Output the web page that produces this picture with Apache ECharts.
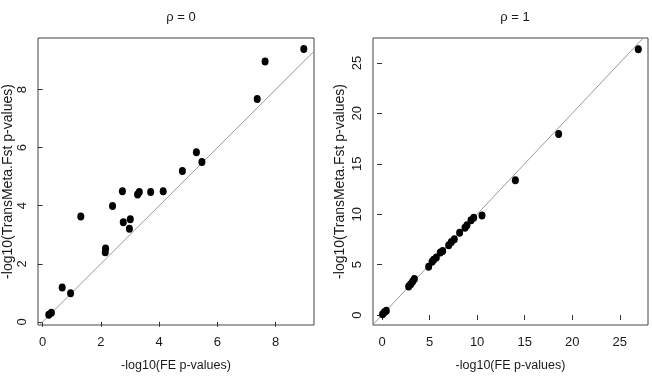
<!DOCTYPE html>
<html><head><meta charset="utf-8">
<script src="https://cdn.jsdelivr.net/npm/echarts@6/dist/echarts.min.js"></script>
<style>html,body{margin:0;padding:0;background:#fff}#c{width:652px;height:377px}</style>
</head><body><div id="c"></div>
<script>
// Panel titles
var titles = ['ρ = 0', 'ρ = 1'];
var xName = '-log10(FE p-values)';
var yName = '-log10(TransMeta.Fst p-values)';
// Left panel (rho = 0)
var x0 = [8.97,7.64,7.37,5.28,5.47,4.80,4.14,3.71,3.32,3.26,2.74,2.40,1.31,2.77,3.01,2.98,2.16,2.15,0.67,0.96,0.21,0.30];
var y0 = [9.40,8.97,7.68,5.84,5.51,5.20,4.50,4.47,4.47,4.39,4.50,3.99,3.63,3.43,3.53,3.21,2.53,2.40,1.18,0.98,0.24,0.31];
var xTicks0 = [0,2,4,6,8];
var yTicks0 = [0,2,4,6,8];
var xRange0 = [-0.16, 9.32];
var yRange0 = [-0.11, 9.78];
// Right panel (rho = 1)
var x1 = [26.95,18.57,14.02,10.51,9.64,9.36,8.93,8.72,8.16,7.60,7.29,7.01,6.38,6.13,5.71,5.43,5.26,4.90,3.40,3.22,3.01,2.80,0.45,0.24,0.06];
var y1 = [26.35,17.95,13.37,9.88,9.65,9.39,8.89,8.66,8.17,7.51,7.24,6.92,6.36,6.19,5.70,5.47,5.27,4.78,3.56,3.33,3.06,2.83,0.43,0.27,0.07];
var xTicks1 = [0,5,10,15,20,25];
var yTicks1 = [0,5,10,15,20,25];
var xRange1 = [-0.95, 27.97];
var yRange1 = [-0.99, 27.47];
// identity reference line y = x
var refLine0 = [[-1,-1],[12,12]];
var refLine1 = [[-2,-2],[30,30]];

function zip(a,b){return a.map(function(v,i){return [v,b[i]];});}
var FONT = 'Liberation Sans, Arial, sans-serif';
var TXT = '#1a1a1a';
function xAxis(idx, range, ticks){
  return {gridIndex: idx, type:'value', min: range[0], max: range[1],
    name: xName, nameLocation:'middle', nameGap: 34,
    nameTextStyle:{fontFamily:FONT, fontSize:12.5, color:TXT},
    axisLine:{show:false}, splitLine:{show:false},
    axisTick:{show:true, length:5, inside:false, customValues: ticks, lineStyle:{color:'#333'}},
    axisLabel:{customValues: ticks, margin:11, fontFamily:FONT, fontSize:13, color:TXT}};
}
function yAxis(idx, range, ticks, gap){
  return {gridIndex: idx, type:'value', min: range[0], max: range[1],
    name: yName, nameLocation:'middle', nameGap: gap,
    nameTextStyle:{fontFamily:FONT, fontSize:14, color:TXT},
    axisLine:{show:false}, splitLine:{show:false},
    axisTick:{show:true, length:5, inside:false, customValues: ticks, lineStyle:{color:'#333'}},
    axisLabel:{customValues: ticks, rotate:90, margin:9, fontFamily:FONT, fontSize:13, color:TXT}};
}
var chart = echarts.init(document.getElementById('c'), null, {renderer:'canvas'});
chart.setOption({
  animation:false,
  backgroundColor:'#fff',
  title:[
    {text:titles[0], left:176, top:6, textAlign:'center', textStyle:{fontFamily:FONT, fontSize:13, fontWeight:'normal', color:TXT}},
    {text:titles[1], left:510, top:6, textAlign:'center', textStyle:{fontFamily:FONT, fontSize:13, fontWeight:'normal', color:TXT}}
  ],
  grid:[
    {left:38, top:38, width:276, height:288, show:true, borderColor:'#444', borderWidth:1, backgroundColor:'transparent'},
    {left:373, top:38, width:275, height:288, show:true, borderColor:'#444', borderWidth:1, backgroundColor:'transparent'}
  ],
  xAxis:[xAxis(0, xRange0, xTicks0), xAxis(1, xRange1, xTicks1)],
  yAxis:[yAxis(0, yRange0, yTicks0, 22), yAxis(1, yRange1, yTicks1, 26)],
  series:[
    {type:'line', xAxisIndex:0, yAxisIndex:0, data:refLine0, symbol:'none', clip:true, lineStyle:{color:'#999', width:1}, z:1},
    {type:'line', xAxisIndex:1, yAxisIndex:1, data:refLine1, symbol:'none', clip:true, lineStyle:{color:'#999', width:1}, z:1},
    {type:'scatter', xAxisIndex:0, yAxisIndex:0, data:zip(x0,y0), symbol:'circle', symbolSize:[7,8], itemStyle:{color:'#000', opacity:1}, z:3},
    {type:'scatter', xAxisIndex:1, yAxisIndex:1, data:zip(x1,y1), symbol:'circle', symbolSize:[7,8], itemStyle:{color:'#000', opacity:1}, z:3}
  ]
});
</script></body></html>
